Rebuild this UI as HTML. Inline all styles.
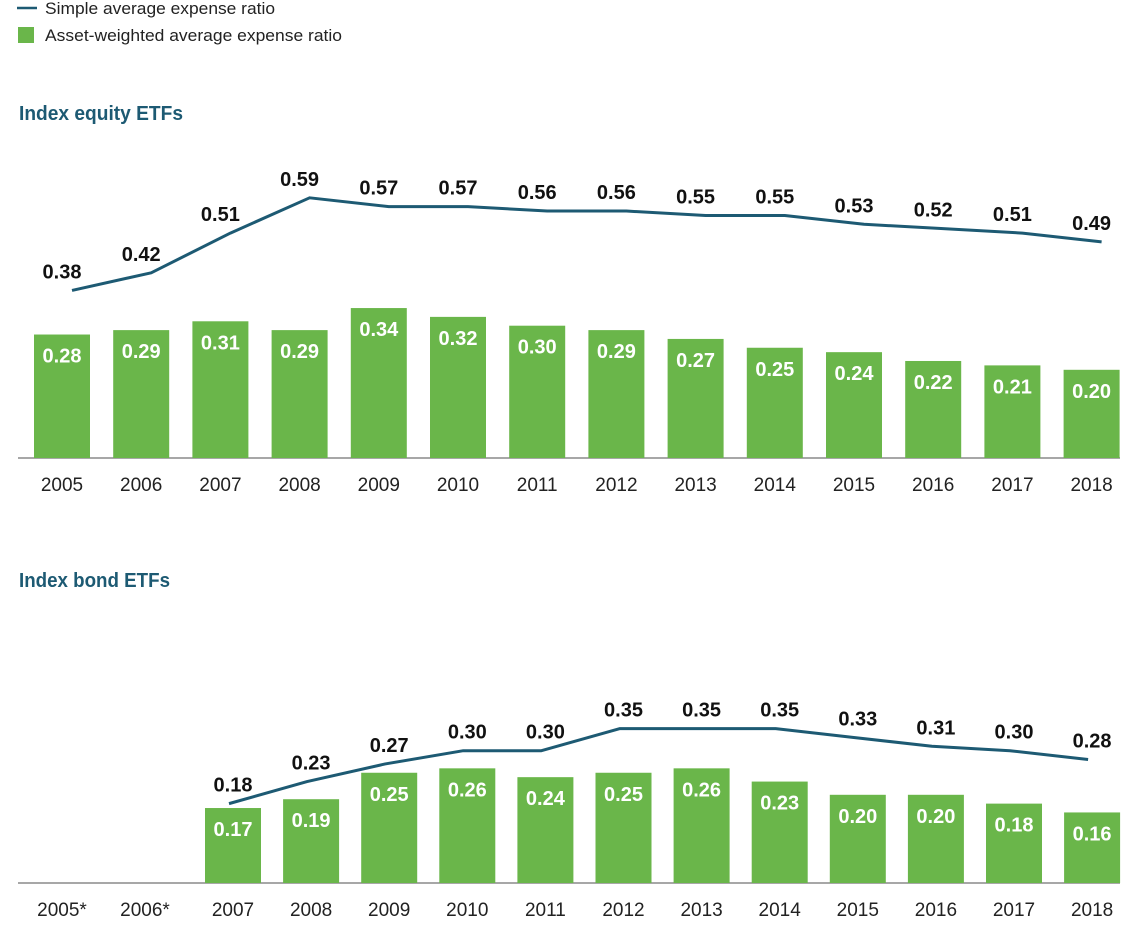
<!DOCTYPE html>
<html><head><meta charset="utf-8">
<style>
html,body{margin:0;padding:0;background:#fff;}
svg{display:block;font-family:"Liberation Sans Narrow","Liberation Sans",sans-serif;}
</style></head>
<body>
<svg id="chart" width="1144" height="932" viewBox="0 0 1144 932" xmlns="http://www.w3.org/2000/svg">
  <g>
    <line x1="17" y1="8" x2="37" y2="8" stroke="#1d5a73" stroke-width="2.5"/>
    <text x="45" y="14" font-size="17" fill="#222" textLength="230" lengthAdjust="spacingAndGlyphs">Simple average expense ratio</text>
    <rect x="18" y="27" width="16" height="16" fill="#6ab64a"/>
    <text x="45" y="41" font-size="17" fill="#222" textLength="297" lengthAdjust="spacingAndGlyphs">Asset-weighted average expense ratio</text>
  </g>
  <text x="19" y="120" font-size="20" font-weight="bold" fill="#1d5a73" textLength="164" lengthAdjust="spacingAndGlyphs">Index equity ETFs</text>
  <text x="19" y="587" font-size="20" font-weight="bold" fill="#1d5a73" textLength="151" lengthAdjust="spacingAndGlyphs">Index bond ETFs</text>
  <g id="equity"></g>
  <g id="bond"></g>
</svg>
<script>
const years = ["2005","2006","2007","2008","2009","2010","2011","2012","2013","2014","2015","2016","2017","2018"];
const bondYears = ["2005*","2006*","2007","2008","2009","2010","2011","2012","2013","2014","2015","2016","2017","2018"];
const equityAsset = [0.28,0.29,0.31,0.29,0.34,0.32,0.30,0.29,0.27,0.25,0.24,0.22,0.21,0.20];
const equitySimple = [0.38,0.42,0.51,0.59,0.57,0.57,0.56,0.56,0.55,0.55,0.53,0.52,0.51,0.49];
const bondAsset = [null,null,0.17,0.19,0.25,0.26,0.24,0.25,0.26,0.23,0.20,0.20,0.18,0.16];
const bondSimple = [null,null,0.18,0.23,0.27,0.30,0.30,0.35,0.35,0.35,0.33,0.31,0.30,0.28];

const NS = "http://www.w3.org/2000/svg";
const pxPerUnit = 441;
function xEquity(i){ return 62 + i * 79.2; }
function xBond(i){ return 233 + (i - 2) * 78.1; }
function mk(tag, attrs, parent){
  const e = document.createElementNS(NS, tag);
  for (const k in attrs) e.setAttribute(k, attrs[k]);
  parent.appendChild(e);
  return e;
}
function drawPanel(g, base, labels, asset, simple, lineOff, prefix, xc, labelX){
  const y = v => base - v * pxPerUnit;
  const axis = mk("line", {x1:18, x2:1120, y1:base, y2:base, stroke:"#8a8a8a", "stroke-width":1.5}, g);
  
  
  labels.forEach((lab, i) => {
    const t = mk("text", {x:labelX(i), y:base+33, "font-size":19, fill:"#222", "text-anchor":"middle"}, g);
    t.textContent = lab;
    
    
  });
  asset.forEach((v, i) => {
    if (v == null) return;
    const r = mk("rect", {x:xc(i)-28, y:y(v), width:56, height:base - y(v), fill:"#6ab64a"}, g);
    
    
    const t = mk("text", {x:xc(i), y:y(v)+28, "font-size":20, "font-weight":"bold", fill:"#fff", "text-anchor":"middle"}, g);
    t.textContent = v.toFixed(2);
    
    
  });
  const pts = [];
  simple.forEach((v, i) => { if (v != null) pts.push([xc(i)+lineOff, y(v), v, i]); });
  const path = mk("polyline", {points: pts.map(p => p[0]+","+p[1]).join(" "), fill:"none", stroke:"#1d5a73", "stroke-width":3, "stroke-linejoin":"round"}, g);
  
  
  pts.forEach(p => {
    const t = mk("text", {x:xc(p[3]), y:p[1]-12, "font-size":20, "font-weight":"bold", fill:"#111", "text-anchor":"middle"}, g);
    t.textContent = p[2].toFixed(2);
    
    
  });
}
drawPanel(document.getElementById("equity"), 458, years, equityAsset, equitySimple, 10, "equity", xEquity, xEquity);
drawPanel(document.getElementById("bond"), 883, bondYears, bondAsset, bondSimple, -4, "bond", xBond,
  i => i < 2 ? 62 + i * 83 : xBond(i));
</script>
</body></html>
